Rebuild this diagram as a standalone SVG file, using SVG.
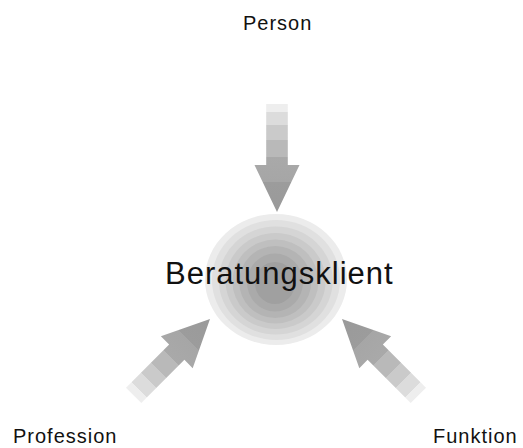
<svg xmlns="http://www.w3.org/2000/svg" width="523" height="448" viewBox="0 0 523 448">
  <style>
    .lbl { font-family: "Liberation Sans", Arial, sans-serif; font-size: 20px; letter-spacing: 1px; fill: #111; }
    .main { font-family: "Liberation Sans", Arial, sans-serif; font-size: 31px; letter-spacing: 1px; fill: #111; }
  </style>
  <defs>
    <linearGradient id="arrowGrad" gradientUnits="userSpaceOnUse" x1="0" y1="-108" x2="0" y2="0">
      <stop offset="0" stop-color="#eeeeee"/>
      <stop offset="0.075" stop-color="#eeeeee"/>
      <stop offset="0.075" stop-color="#dcdcdc"/>
      <stop offset="0.195" stop-color="#dcdcdc"/>
      <stop offset="0.195" stop-color="#cacaca"/>
      <stop offset="0.33" stop-color="#cacaca"/>
      <stop offset="0.33" stop-color="#b9b9b9"/>
      <stop offset="0.49" stop-color="#b9b9b9"/>
      <stop offset="0.49" stop-color="#a9a9a9"/>
      <stop offset="0.72" stop-color="#a6a6a6"/>
      <stop offset="0.72" stop-color="#9c9c9c"/>
      <stop offset="1" stop-color="#9a9a9a"/>
    </linearGradient>
    <path id="arrow" d="M -10.8 -108 L 10.8 -108 L 10.8 -47 L 22.5 -47 L 0 0 L -22.5 -47 L -10.8 -47 Z" fill="url(#arrowGrad)"/>
  </defs>
  <rect width="523" height="448" fill="#ffffff"/>

  <g id="connectors">
    <use href="#arrow" transform="translate(277,212)"/>
    <use href="#arrow" transform="translate(342,319) rotate(135)"/>
    <use href="#arrow" transform="translate(210,319) rotate(-135)"/>
  </g>

  <g id="beratungsklient">
    <ellipse cx="276" cy="279.5" rx="71" ry="65.5" fill="#ececec"/>
    <ellipse cx="276" cy="280" rx="64" ry="60" fill="#e0e0e0"/>
    <ellipse cx="275.8" cy="280.5" rx="57" ry="54" fill="#d5d5d5"/>
    <ellipse cx="275.6" cy="281" rx="50" ry="48" fill="#cacaca"/>
    <ellipse cx="275.4" cy="281.5" rx="43" ry="42" fill="#bfbfbf"/>
    <ellipse cx="275.2" cy="282" rx="36" ry="36" fill="#b4b4b4"/>
    <ellipse cx="275" cy="282.5" rx="28" ry="29" fill="#aaaaaa"/>
    <ellipse cx="275" cy="283" rx="20" ry="21" fill="#a0a0a0"/>
    <text class="main" x="165" y="284">Beratungsklient</text>
  </g>

  <g id="person">
    <text class="lbl" x="243" y="30">Person</text>
  </g>
  <g id="profession">
    <text class="lbl" x="13" y="443">Profession</text>
  </g>
  <g id="funktion">
    <text class="lbl" x="433" y="443">Funktion</text>
  </g>
</svg>
